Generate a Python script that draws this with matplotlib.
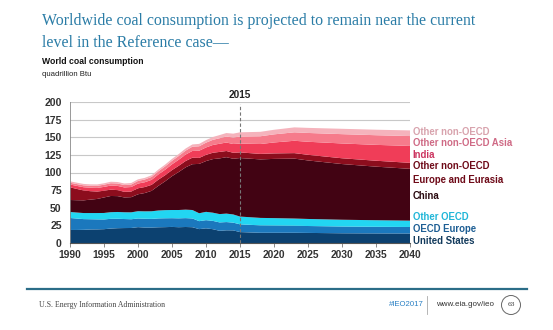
import matplotlib
matplotlib.use("Agg")
import matplotlib.pyplot as plt
from matplotlib.patches import Ellipse
import numpy as np

years = list(range(1990, 2016)) + [2018, 2020, 2023, 2025, 2030, 2035, 2040]

united_states = [18.5, 18.5, 18.7, 19.2, 19.3, 19.6, 20.5, 21.0, 21.2, 21.3, 22.5, 21.9, 21.9, 22.3, 22.5, 22.8,
                 22.4, 22.7, 22.4, 19.7, 20.8, 19.6, 17.3, 18.0, 17.9, 15.5,
                 14.5, 14.5, 14.5, 14.3, 13.8, 13.6, 13.5]
oecd_europe = [17.0, 16.2, 15.2, 14.5, 14.2, 13.8, 13.8, 13.4, 12.8, 12.4, 12.3, 12.5, 12.3, 12.6, 12.6, 12.4,
               12.6, 12.6, 12.4, 11.3, 11.6, 11.8, 11.9, 11.7, 11.0, 11.0,
               10.5, 10.3, 10.0, 9.8, 9.6, 9.4, 9.2]
other_oecd = [8.5, 8.5, 8.6, 8.8, 9.0, 9.2, 9.4, 9.6, 9.6, 9.8, 10.3, 10.5, 10.8, 11.2, 11.5, 11.6,
              11.8, 12.0, 12.0, 11.2, 11.8, 11.6, 11.8, 12.0, 11.6, 11.0,
              10.6, 10.5, 10.2, 10.0, 9.6, 9.3, 9.0]
china = [17.0, 17.5, 18.0, 19.0, 20.0, 22.0, 23.0, 22.5, 21.0, 21.5, 24.0, 26.0, 29.0, 35.0, 41.0, 48.0,
         54.0, 60.0, 65.0, 70.0, 72.0, 76.0, 79.0, 80.0, 79.0, 83.0,
         83.0, 84.0, 85.0, 83.0, 79.0, 76.0, 73.5]
eurasia = [18.0, 16.0, 14.0, 12.0, 10.5, 9.5, 9.0, 8.5, 8.0, 8.0, 8.5, 8.5, 8.5, 8.8, 8.6, 8.6,
           8.8, 9.0, 9.2, 8.5, 8.8, 9.0, 9.2, 8.8, 8.5, 8.0,
           7.8, 7.8, 7.8, 8.0, 8.2, 8.4, 8.5]
india = [4.0, 4.3, 4.6, 4.9, 5.1, 5.5, 5.8, 6.0, 6.2, 6.4, 6.7, 6.8, 7.1, 7.4, 7.8, 8.2,
         8.6, 9.1, 9.6, 10.2, 10.5, 11.0, 11.6, 12.0, 12.4, 12.5,
         14.0, 15.5, 17.5, 18.5, 21.0, 22.5, 24.0]
other_asia = [2.5, 2.6, 2.7, 2.8, 3.0, 3.1, 3.3, 3.4, 3.4, 3.5, 3.7, 3.9, 4.1, 4.4, 4.7, 5.0,
              5.3, 5.6, 6.0, 6.3, 6.8, 7.3, 7.8, 8.5, 9.2, 10.0,
              11.0, 11.5, 12.0, 12.5, 13.2, 13.7, 14.0]
other_non_oecd = [2.0, 2.0, 2.0, 2.0, 2.0, 2.0, 2.1, 2.1, 2.2, 2.2, 2.3, 2.3, 2.4, 2.5, 2.6, 2.7,
                  2.8, 3.0, 3.2, 3.4, 3.6, 4.0, 4.5, 5.0, 5.5, 6.0,
                  6.3, 6.5, 7.0, 7.2, 7.6, 7.8, 8.0]

series_names = ["United States", "OECD Europe", "Other OECD", "China",
                "Other non-OECD\nEurope and Eurasia", "India", "Other non-OECD Asia", "Other non-OECD"]
x_ticks = [1990, 1995, 2000, 2005, 2010, 2015, 2020, 2025, 2030, 2035, 2040]
y_ticks = [0, 25, 50, 75, 100, 125, 150, 175, 200]

fill_colors = ["#0c4170", "#1b78bd", "#22d6f2", "#420313", "#8c0d1d", "#f03d58", "#f67b8b", "#f5b3bc"]
label_colors = ["#123a5c", "#1d5e94", "#20b6d8", "#2a0a10", "#6e0a18", "#cc3560", "#cf6a85", "#d8a3ad"]
label_y = [2.8, 19.9, 36.9, 66.7, 99.0, 124.8, 141.8, 157.4]  # label positions (layout)

W, H = 553, 330
fig = plt.figure(figsize=(W/100, H/100), dpi=100)
fig.patch.set_facecolor("white")

ax = fig.add_axes([70/W, 1-243/H, 340/W, 141/H])
stack = [united_states, oecd_europe, other_oecd, china, eurasia, india, other_asia, other_non_oecd]
ax.stackplot(years, *stack, colors=fill_colors, linewidth=0)

ax.set_xlim(1990, 2040)
ax.set_ylim(0, 200)
ax.set_yticks(y_ticks)
ax.set_xticks(x_ticks)
ax.yaxis.grid(True, color="#c8c8c8", linewidth=0.8)
ax.set_axisbelow(True)
for s in ["top", "right"]:
    ax.spines[s].set_visible(False)
ax.spines["left"].set_visible(False)
ax.spines["bottom"].set_color("#555555")
ax.spines["bottom"].set_linewidth(0.8)
ax.tick_params(axis="y", length=0, pad=6, labelsize=7.6, labelcolor="#333333")
ax.tick_params(axis="x", length=3, width=0.6, color="#777777", pad=2, labelsize=7.4, labelcolor="#333333")
for t in ax.get_xticklabels() + ax.get_yticklabels():
    t.set_fontweight("bold")
    t.set_family("Liberation Sans")
ax.axvline(1990, color="#888888", lw=0.6, zorder=3)

# 2015 divider
ax.axvline(2015, color="#777777", lw=0.8, ls=(0, (3, 2)), zorder=4, ymax=0.985)
ax.text(2015, 203, "2015", ha="center", va="bottom", fontsize=7.2, fontweight="bold",
        family="Liberation Sans", color="#222222")

for name, yv, c in zip(series_names, label_y, label_colors):
    ax.text(1.008, yv, name, transform=ax.get_yaxis_transform(), ha="left", va="center",
            fontsize=6.9, fontweight="bold", family="Liberation Sans", color=c,
            linespacing=1.45)

# titles
fig.text(42/W, 1-21/H, "Worldwide coal consumption is projected to remain near the current",
         fontsize=11.4, family="Liberation Serif", color="#2a7ca6", va="center", ha="left")
fig.text(42/W, 1-43/H, "level in the Reference case\u2014",
         fontsize=11.4, family="Liberation Serif", color="#2a7ca6", va="center", ha="left")
fig.text(42/W, 1-62/H, "World coal consumption", fontsize=6.2, fontweight="bold",
         family="Liberation Sans", color="#111111", va="center")
fig.text(42/W, 1-74/H, "quadrillion Btu", fontsize=5.6,
         family="Liberation Sans", color="#222222", va="center")

# footer
fig.add_artist(plt.Line2D([27/W, 527/W], [1-289/H, 1-289/H], color="#2b6d88", lw=1.6))
fig.text(39/W, 1-305/H, "U.S. Energy Information Administration", fontsize=5.6,
         family="Liberation Serif", color="#444444", va="center")
fig.text(389/W, 1-305/H, "#IEO2017", fontsize=5.6, family="Liberation Sans",
         color="#2a80c4", va="center")
fig.add_artist(plt.Line2D([427/W, 427/W], [1-296/H, 1-314/H], color="#aaaaaa", lw=0.6))
fig.text(436/W, 1-305/H, "www.eia.gov/ieo", fontsize=5.8, family="Liberation Sans",
         color="#333333", va="center")
circ = Ellipse((511/W, 1-305/H), 19/W, 19/H, transform=fig.transFigure, fill=False,
               edgecolor="#666666", lw=0.7)
fig.add_artist(circ)
fig.text(511/W, 1-305/H, "63", fontsize=5.4, family="Liberation Serif",
         color="#333333", va="center", ha="center")

fig.savefig("out.png", dpi=100, facecolor="white")
